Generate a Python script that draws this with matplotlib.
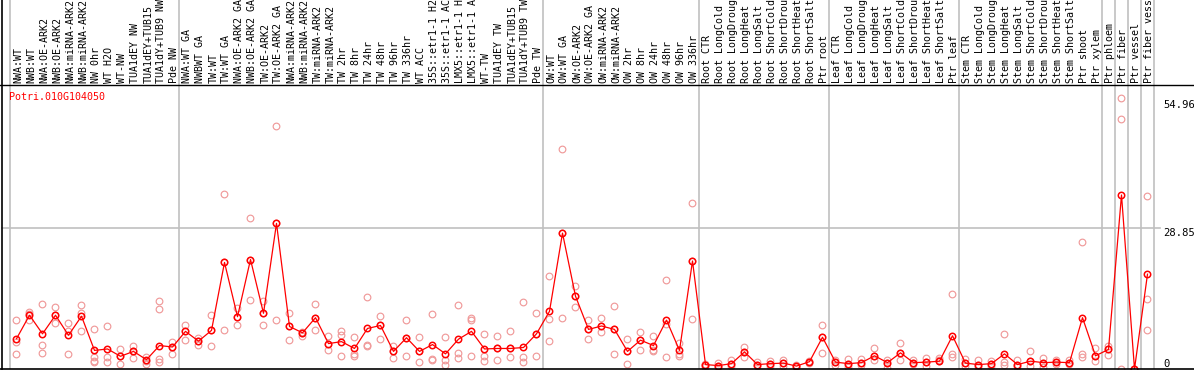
import matplotlib
matplotlib.use("Agg")
import matplotlib.pyplot as plt
from matplotlib.lines import Line2D

# Sample labels, grouped as in the figure
group_sizes = [13, 28, 12, 10, 10, 11, 1, 1, 1, 1]

labels = [
    "NWA:WT", "NWB:WT", "NWA:OE-ARK2", "NWB:OE-ARK2", "NWA:miRNA-ARK2", "NWB:miRNA-ARK2",
    "NW 0hr", "WT H2O", "WT-NW", "TUA1dEY NW", "TUA1dEY+TUB15", "TUA1dY+TUB9 NW", "Pde NW",
    "NWA:WT GA", "NWBWT GA", "TW:WT", "TW:WT GA", "NWA:OE-ARK2 GA", "NWB:OE-ARK2 GA",
    "TW:OE-ARK2", "TW:OE-ARK2 GA", "NWA:miRNA-ARK2", "NWB:miRNA-ARK2", "TW:miRNA-ARK2",
    "TW:miRNA-ARK2", "TW 2hr", "TW 8hr", "TW 24hr", "TW 48hr", "TW 96hr", "TW 336hr",
    "WT ACC", "35S::etr1-1 H2O", "35S::etr1-1 ACC", "LMX5::etr1-1 H2O", "LMX5::etr1-1 ACC",
    "WT-TW", "TUA1dEY TW", "TUA1dEY+TUB15", "TUA1dY+TUB9 TW", "Pde TW",
    "OW:WT", "OW:WT GA", "OW:OE-ARK2", "OW:OE-ARK2 GA", "OW:miRNA-ARK2", "OW:miRNA-ARK2",
    "OW 2hr", "OW 8hr", "OW 24hr", "OW 48hr", "OW 96hr", "OW 336hr",
    "Root CTR", "Root LongCold", "Root LongDrought", "Root LongHeat", "Root LongSalt",
    "Root ShortCold", "Root ShortDrought", "Root ShortHeat", "Root ShortSalt", "Ptr root",
    "Leaf CTR", "Leaf LongCold", "Leaf LongDrought", "Leaf LongHeat", "Leaf LongSalt",
    "Leaf ShortCold", "Leaf ShortDrought", "Leaf ShortHeat", "Leaf ShortSalt", "Ptr leaf",
    "Stem CTR", "Stem LongCold", "Stem LongDrought", "Stem LongHeat", "Stem LongSalt",
    "Stem ShortCold", "Stem ShortDrought", "Stem ShortHeat", "Stem ShortSalt", "Ptr shoot",
    "Ptr xylem", "Ptr phloem", "Ptr fiber", "Ptr vessel", "Ptr fiber vessel",
]

# Mean expression per sample
means = [
    6.2, 11.0, 7.2, 11.0, 6.9, 10.8, 3.8, 4.1, 2.6, 3.6, 1.9, 4.8, 4.5,
    7.7, 5.7, 7.9, 21.8, 10.7, 22.4, 11.4, 29.8, 8.7, 7.4, 10.5, 5.2, 5.6, 4.2,
    8.3, 8.9, 3.6, 6.4, 3.6, 5.0, 3.1, 6.1, 7.7, 4.1, 4.2, 4.2, 4.4, 7.2,
    11.8, 27.8, 14.9, 8.1, 8.8, 8.1, 3.6, 5.9, 4.8, 10.0, 3.8, 22.1,
    0.9, 0.7, 1.1, 3.5, 0.9, 1.1, 1.2, 0.6, 1.5, 6.5,
    1.4, 1.1, 1.3, 2.7, 1.3, 3.3, 1.3, 1.4, 1.6, 6.8,
    1.2, 0.9, 1.1, 3.1, 0.9, 1.6, 1.3, 1.4, 1.3, 10.5, 2.7,
    4.0, 35.6, 0.0, 19.4,
]

# Replicate values per sample
reps = [
    [10.0, 5.6, 3.1], [11.7, 10.1, 11.2], [13.2, 5.0, 3.3], [12.6, 9.4, 11.0],
    [9.5, 7.8, 3.1], [13.0, 11.5, 7.7], [8.1, 2.4, 1.7, 1.4], [8.7, 2.4, 1.5],
    [4.1, 1.1, 2.6], [4.8, 2.2, 3.6], [2.4, 1.1, 1.6], [13.9, 12.2, 2.1, 1.5],
    [5.5, 3.1, 4.5],
    [9.1, 6.0, 7.7], [6.3, 5.0, 5.7], [11.0, 4.7, 7.9], [35.8, 7.9, 21.8],
    [12.4, 9.1, 10.7], [30.9, 14.1, 22.4], [13.9, 8.9, 11.4], [49.8, 10.0, 29.8],
    [11.5, 5.9, 8.7], [7.6, 6.8, 7.4], [13.2, 7.9, 10.5], [6.7, 3.9, 5.2],
    [7.8, 6.9, 2.6], [6.6, 3.1, 2.7], [14.8, 5.0, 4.8], [10.9, 6.1, 8.9],
    [4.7, 2.3, 3.6], [10.1, 2.6, 6.4], [6.6, 1.5, 3.6], [11.2, 2.1, 1.8],
    [6.5, 1.8, 0.9], [13.0, 3.2, 2.2], [10.4, 10.0, 2.7], [7.2, 2.6, 1.6],
    [6.7, 1.9, 4.2], [7.8, 2.4, 4.2], [13.7, 2.4, 1.5], [11.5, 2.7, 7.2],
    [19.1, 10.2, 5.8], [45.0, 10.5, 27.8], [16.9, 12.6, 14.9], [10.0, 6.2, 8.1],
    [10.4, 7.6, 8.8], [12.8, 3.1, 8.1], [6.1, 1.1, 3.6], [7.5, 3.8, 5.9],
    [6.8, 3.9, 3.6], [18.3, 9.3, 2.4], [5.4, 3.0, 2.7], [33.9, 10.3, 22.1],
    [1.0, 0.5, 0.9], [1.2, 0.4, 0.7], [1.9, 0.6, 1.1], [4.5, 2.4, 3.5],
    [1.4, 0.6, 0.9], [1.6, 0.7, 1.1], [1.9, 0.6, 1.2], [0.8, 0.5, 0.6],
    [1.7, 1.3, 1.5], [9.1, 3.3, 6.5],
    [1.9, 0.9, 1.4], [2.1, 0.5, 1.1], [2.0, 0.8, 1.3], [4.2, 1.8, 2.7],
    [1.8, 0.3, 1.3], [5.4, 1.8, 3.3], [1.8, 1.1, 1.3], [2.3, 0.6, 1.4],
    [2.2, 1.8, 1.6], [15.4, 3.0, 2.4],
    [2.0, 0.6, 1.2], [1.9, 0.5, 0.9], [1.6, 0.7, 1.1], [7.2, 1.4, 0.8],
    [1.8, 0.4, 0.9], [3.6, 0.7, 1.6], [2.2, 0.5, 1.3], [1.8, 1.1, 1.4],
    [1.9, 1.0, 1.3], [25.9, 3.1, 2.4], [4.2, 1.6, 2.7],
    [4.7, 2.8, 4.0], [55.5, 51.2, 0.0], [0.0, 0.0, 0.0], [35.4, 14.4, 8.0],
]

gene = "Potri.010G104050"
ytick_vals = [0, 28.85, 54.96]
ytick_labels = ["0", "28.85", "54.96"]

# layout in pixels
W, H = 1194, 370
left_px, right_px = 1.5, 1155
plot_top, plot_bot = 85, 369
mono = "DejaVu Sans Mono"
fs = 7.2
red = "#FF0000"
pink = "#F09A9A"
grey = "#C0C0C0"

fig = plt.figure(figsize=(W / 100, H / 100), dpi=100)

xlo = (left_px - 16.5) / 13
xhi = (right_px - 16.5) / 13

ax = fig.add_axes([left_px / W, (H - plot_bot) / H,
                   (right_px - left_px) / W, (plot_bot - plot_top) / H])
lab_ax = fig.add_axes([left_px / W, (H - plot_top) / H,
                       (right_px - left_px) / W, plot_top / H])

n = len(labels)
xs = list(range(n))

# group separators
bounds = [-0.5]
for g in group_sizes:
    bounds.append(bounds[-1] + g)
for b in bounds:
    ax.axvline(b, color=grey, lw=1.2, zorder=0)
    lab_ax.axvline(b, color=grey, lw=1.2, zorder=0)

ax.axhline(28.85, xmin=0, xmax=(1160 - left_px) / (right_px - left_px),
           color=grey, lw=1.2, zorder=0, clip_on=False)

# replicates
for i, r in enumerate(reps):
    ax.plot([i] * len(r), r, linestyle="none", marker="o", ms=4.8,
            mfc="none", mec=pink, mew=0.85, zorder=2)

# means
ax.plot(xs, means, color=red, lw=0.9, zorder=3)
ax.plot(xs, means, linestyle="none", marker="o", ms=4.6, mfc="none",
        mec=red, mew=1.1, zorder=4)

ax.set_xlim(xlo, xhi)
ax.set_ylim(0, (plot_bot - plot_top) / 4.888)
for s in ax.spines.values():
    s.set_visible(False)
ax.set_xticks([])
ax.yaxis.tick_right()
ax.set_yticks(ytick_vals)
ax.set_yticklabels(ytick_labels, fontfamily=mono, fontsize=7.6)
ax.tick_params(axis="y", length=0, pad=5.8)
tl = ax.get_yticklabels()
tl[0].set_va("bottom")
tl[1].set_va("top")
tl[2].set_va("top")

ax.text((9.3 - left_px) / (right_px - left_px), (plot_bot - 92) / (plot_bot - plot_top),
        gene, transform=ax.transAxes, color=red, fontfamily=mono, fontsize=fs,
        ha="left", va="top")

# sample labels
lab_ax.set_xlim(xlo, xhi)
lab_ax.set_ylim(0, 1)
lab_ax.axis("off")
for i, lab in enumerate(labels):
    lab_ax.text(i + 0.15, 2 / plot_top, lab, rotation=90, ha="center", va="bottom",
                fontfamily=mono, fontsize=fs, color="black", clip_on=True)

# frame lines
fig.add_artist(Line2D([0, 1], [(H - plot_top) / H] * 2, color="black", lw=1.0,
                      transform=fig.transFigure))
fig.add_artist(Line2D([0, 1], [(H - plot_bot) / H] * 2, color="black", lw=1.2,
                      transform=fig.transFigure))
fig.add_artist(Line2D([left_px / W] * 2, [(H - plot_bot) / H, 1], color="black",
                      lw=1.2, transform=fig.transFigure))

fig.savefig("out.png", dpi=100)
